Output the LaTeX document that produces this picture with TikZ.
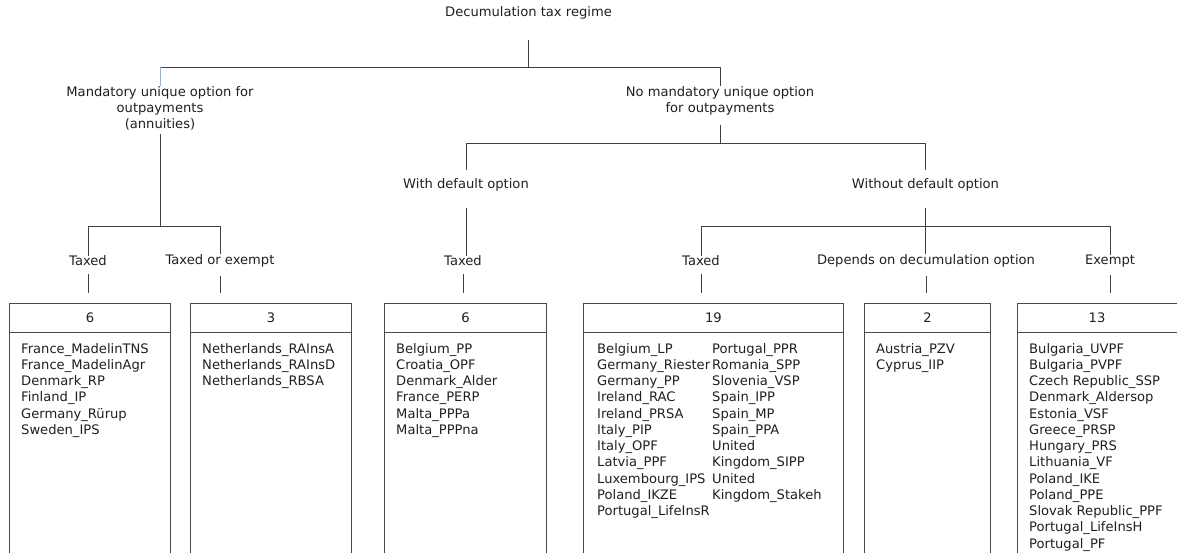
\documentclass[tikz,border=0pt]{standalone}
\usepackage{fontspec}
\setmainfont{DejaVu Sans}
\usetikzlibrary{calc}
\definecolor{ink}{HTML}{1F1F1F}
\definecolor{rule}{HTML}{404040}
\definecolor{frame}{HTML}{4A4A4A}
\definecolor{accent}{HTML}{8EB4E3}

\begin{document}
\begin{tikzpicture}[x=1pt,y=-1pt,
  lbl/.style={inner sep=0pt, align=center, text=ink, font=\fontsize{13.1}{16.25}\selectfont},
  items/.style={inner sep=0pt, align=left, anchor=north west, text=ink, font=\fontsize{13.1}{16.25}\selectfont},
  conn/.style={draw=rule, line width=0.9pt},
  hint/.style={draw=accent, line width=0.9pt},
  boxframe/.style={draw=frame, line width=0.9pt, inner sep=0pt, anchor=north west, minimum height=290pt},
  divider/.style={draw=frame, line width=0.9pt},
]
\useasboundingbox (0,0) rectangle (1177,553);
\clip (0,0) rectangle (1177,553);

% ---- tree labels
\node[lbl] (root) at (528.5,13) {Decumulation tax regime};
\node[lbl, anchor=north] (mand) at (160,86) {Mandatory unique option for\\outpayments\\(annuities)};
\node[lbl, anchor=north] (nomand) at (720,86) {No mandatory unique option\\for outpayments};
\node[lbl] (with) at (466,185) {With default option};
\node[lbl] (without) at (925.5,185) {Without default option};
\node[lbl] (tA) at (88,261) {Taxed};
\node[lbl] (tB) at (220,261) {Taxed or exempt};
\node[lbl] (tC) at (463,261) {Taxed};
\node[lbl] (tD) at (701,261) {Taxed};
\node[lbl] (tE) at (926,261) {Depends on decumulation option};
\node[lbl] (tF) at (1110,261) {Exempt};

% ---- fork levels
\coordinate (barA) at (0,67);
\coordinate (barB) at (0,226);
\coordinate (barC) at (0,143);
\coordinate (barD) at (0,226);

% ---- connectors
\draw[conn] ($(root.south)+(0,20)$) -- (root.south |- barA);
\draw[conn] (mand.north |- barA) -| (nomand.north);
\draw[hint] (mand.north |- barA) -- (mand.north);

\draw[conn] ($(mand.south)+(0,3)$) -- (mand.south |- barB);
\draw[conn] (tA.north) -- (tA.north |- barB) -- (tB.north |- barB) -- (tB.north);

\draw[conn] ($(nomand.south)+(0,10)$) -- (nomand.south |- barC);
\draw[conn] ($(with.north)+(0,-8)$) -- (with.north |- barC) -- (without.north |- barC) -- ($(without.north)+(0,-8)$);

\draw[conn] ($(with.south)+(0,16)$) -- (with.south |- tC.north);
\draw[conn] ($(without.south)+(0,16)$) -- (without.south |- tE.north);
\draw[conn] (tD.north) -- (tD.north |- barD) -- (tF.north |- barD) -- (tF.north);

% ---- result boxes
\node[boxframe, minimum width=161pt] (b1) at (9,303) {};
\node[boxframe, minimum width=161pt] (b2) at (190,303) {};
\node[boxframe, minimum width=162pt] (b3) at (384,303) {};
\node[boxframe, minimum width=260pt] (b4) at (583,303) {};
\node[boxframe, minimum width=126pt] (b5) at (864,303) {};
\node[boxframe, minimum width=180pt] (b6) at (1017,303) {};

\foreach \b in {b1,b2,b3,b4,b5,b6}{
  \draw[divider] ($(\b.north west)+(0,29)$) -- ($(\b.north east)+(0,29)$);
}

% ---- stubs from labels to boxes
\draw[conn] ($(tA.south)+(0,8)$) -- ($(tA.south |- b1.north)+(0,-10)$);
\draw[conn] ($(tB.south)+(0,8)$) -- ($(tB.south |- b2.north)+(0,-10)$);
\draw[conn] ($(tC.south)+(0,8)$) -- ($(tC.south |- b3.north)+(0,-10)$);
\draw[conn] ($(tD.south)+(0,8)$) -- ($(tD.south |- b4.north)+(0,-10)$);
\draw[conn] ($(tE.south)+(0,8)$) -- ($(tE.south |- b5.north)+(0,-10)$);
\draw[conn] ($(tF.south)+(0,8)$) -- ($(tF.south |- b6.north)+(0,-10)$);

% ---- counts
\node[lbl] (n1) at ($(b1.north)+(0,15)$) {6};
\node[lbl] (n2) at ($(b2.north)+(0,15)$) {3};
\node[lbl] (n3) at ($(b3.north)+(0,15)$) {6};
\node[lbl] (n4) at ($(b4.north)+(0,15)$) {19};
\node[lbl] (n5) at ($(b5.north)+(0,15)$) {2};
\node[lbl] (n6) at ($(b6.north west)+(80,15)$) {13};

% ---- plan lists
\node[items] (l1) at ($(b1.north west)+(12,40)$) {France\_MadelinTNS\\France\_MadelinAgr\\Denmark\_RP\\Finland\_IP\\Germany\_Rürup\\Sweden\_IPS};
\node[items] (l2) at ($(b2.north west)+(12,40)$) {Netherlands\_RAInsA\\Netherlands\_RAInsD\\Netherlands\_RBSA};
\node[items] (l3) at ($(b3.north west)+(12,40)$) {Belgium\_PP\\Croatia\_OPF\\Denmark\_Alder\\France\_PERP\\Malta\_PPPa\\Malta\_PPPna};
\node[items] (l4a) at ($(b4.north west)+(14,40)$) {Belgium\_LP\\Germany\_Riester\\Germany\_PP\\Ireland\_RAC\\Ireland\_PRSA\\Italy\_PIP\\Italy\_OPF\\Latvia\_PPF\\Luxembourg\_IPS\\Poland\_IKZE\\Portugal\_LifeInsR};
\node[items] (l4b) at ($(b4.north west)+(129,40)$) {Portugal\_PPR\\Romania\_SPP\\Slovenia\_VSP\\Spain\_IPP\\Spain\_MP\\Spain\_PPA\\United\\Kingdom\_SIPP\\United\\Kingdom\_Stakeh};
\node[items] (l5) at ($(b5.north west)+(12,40)$) {Austria\_PZV\\Cyprus\_IIP};
\node[items] (l6) at ($(b6.north west)+(12,40)$) {Bulgaria\_UVPF\\Bulgaria\_PVPF\\Czech Republic\_SSP\\Denmark\_Aldersop\\Estonia\_VSF\\Greece\_PRSP\\Hungary\_PRS\\Lithuania\_VF\\Poland\_IKE\\Poland\_PPE\\Slovak Republic\_PPF\\Portugal\_LifeInsH\\Portugal\_PF};
\end{tikzpicture}
\end{document}
